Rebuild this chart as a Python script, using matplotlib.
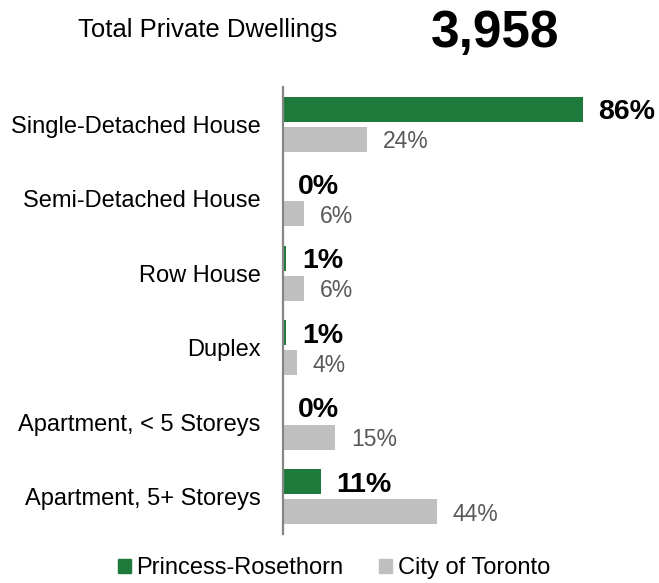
import matplotlib.pyplot as plt
import numpy as np
from matplotlib.patches import Patch

plt.rcParams['font.family'] = ['Liberation Sans', 'DejaVu Sans']

# dwelling types and shares (%)
categories = ['Single-Detached House', 'Semi-Detached House', 'Row House',
              'Duplex', 'Apartment, < 5 Storeys', 'Apartment, 5+ Storeys']
neighbourhood = [86, 0, 1, 1, 0, 11]
toronto = [24, 6, 6, 4, 15, 44]
total_dwellings = 3958

green = '#1e7a3a'
grey = '#bfbfbf'

fig = plt.figure(figsize=(6.59, 5.83), dpi=100)
ax = fig.add_axes([283 / 659, 49 / 583, 350 / 659, 447 / 583])

y = np.arange(len(categories))
h = 0.336
ax.barh(y - 0.2, neighbourhood, height=h, color=green)
ax.barh(y + 0.2, toronto, height=h, color=grey)

for yi, v in zip(y, neighbourhood):
    ax.annotate('%d%%' % v, (v, yi - 0.2), xytext=(11, 0), textcoords='offset points',
                va='center_baseline', ha='left', fontsize=20.5, fontweight='bold', color='black')
for yi, v in zip(y, toronto):
    ax.annotate('%d%%' % v, (v, yi + 0.2), xytext=(11.5, 0), textcoords='offset points',
                va='center_baseline', ha='left', fontsize=16.5, color='#595959')

ax.set_xlim(0, 100.3)
ax.set_ylim(len(categories) - 0.5, -0.5)
ax.set_yticks(y)
ax.set_yticklabels(categories, fontsize=17)
ax.tick_params(axis='y', length=0, pad=16)
ax.set_xticks([])
for s in ['top', 'right', 'bottom']:
    ax.spines[s].set_visible(False)
ax.spines['left'].set_color('#868686')
ax.spines['left'].set_linewidth(1.6)

fig.text(78 / 659, 1 - 27 / 583, 'Total Private Dwellings', fontsize=18.5,
         va='center_baseline', ha='left')
fig.text(431 / 659, 1 - 28 / 583, '{:,}'.format(total_dwellings), fontsize=37,
         fontweight='bold', va='center_baseline', ha='left')

handles = [Patch(color=green, label='Princess-Rosethorn'),
           Patch(color=grey, label='City of Toronto')]
fig.legend(handles=handles, loc='center', bbox_to_anchor=(334 / 659, 15 / 583),
           ncol=2, frameon=False, fontsize=17, handlelength=0.55, handleheight=0.55,
           handletextpad=0.25, columnspacing=1.5, borderpad=0)

fig.savefig('out.png', dpi=100)
